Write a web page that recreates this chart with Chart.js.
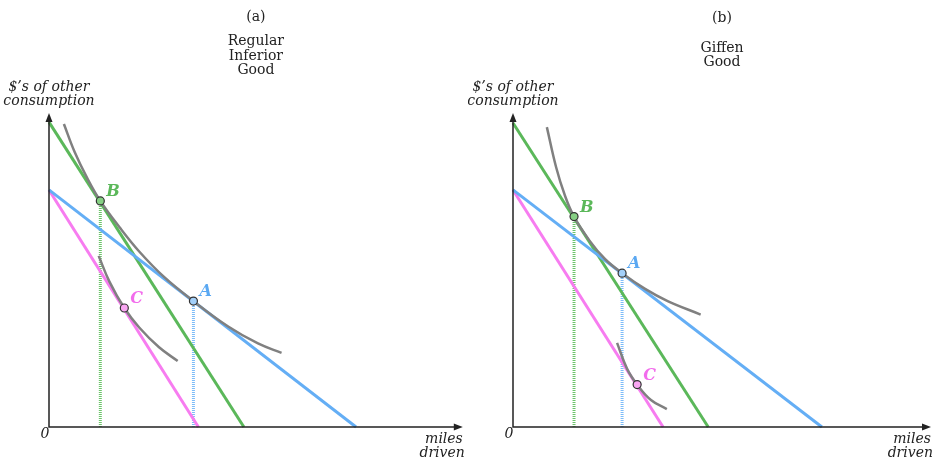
<!DOCTYPE html>
<html>
<head>
<meta charset="utf-8">
<script src="https://cdn.jsdelivr.net/npm/chart.js@4/dist/chart.umd.min.js"></script>
<style>
  body { margin: 0; background: #fff; }
  #wrap { position: relative; width: 937px; height: 463px; }
  canvas { position: absolute; top: 0; }
</style>
</head>
<body>
<div id="wrap">
  <canvas id="chartA" width="468" height="463" style="left:0"></canvas>
  <canvas id="chartB" width="469" height="463" style="left:468px"></canvas>
</div>
<script>
// panel (a) - regular inferior good
const aBlue  = [{x: 0, y: 75.5}, {x: 74.2, y: 0}];
const aGreen = [{x: 0, y: 97.1}, {x: 47.1, y: 0}];
const aPink  = [{x: 0, y: 75.5}, {x: 36.1, y: 0}];
const aCurveHigh = [
  {x: 3.6, y: 96.5}, {x: 6.2, y: 87.6}, {x: 9.3, y: 79.1}, {x: 12.4, y: 72.0},
  {x: 17.0, y: 63.7}, {x: 21.8, y: 55.9}, {x: 27.8, y: 47.8}, {x: 34.9, y: 40.1},
  {x: 43.3, y: 32.0}, {x: 50.5, y: 26.6}, {x: 56.2, y: 23.6}
];
const aCurveLow = [
  {x: 12.0, y: 54.5}, {x: 14.6, y: 46.3}, {x: 18.2, y: 37.9},
  {x: 21.8, y: 31.7}, {x: 26.6, y: 25.4}, {x: 31.1, y: 21.0}
];
const aPoints = {A: {x: 34.9, y: 40.1}, B: {x: 12.4, y: 72.0}, C: {x: 18.2, y: 37.9}};

// panel (b) - giffen good
const bBlue  = [{x: 0, y: 75.5}, {x: 73.9, y: 0}];
const bGreen = [{x: 0, y: 96.8}, {x: 46.7, y: 0}];
const bPink  = [{x: 0, y: 75.5}, {x: 35.9, y: 0}];
const bCurveHigh = [
  {x: 8.1, y: 95.5}, {x: 10.3, y: 82.8}, {x: 12.4, y: 73.8}, {x: 14.6, y: 67.0},
  {x: 18.4, y: 59.2}, {x: 22.0, y: 53.5}, {x: 26.1, y: 49.0}, {x: 31.6, y: 44.0},
  {x: 37.0, y: 40.1}, {x: 44.9, y: 35.8}
];
const bCurveLow = [
  {x: 24.9, y: 26.8}, {x: 27.3, y: 18.5}, {x: 29.7, y: 13.5},
  {x: 33.0, y: 8.6}, {x: 36.8, y: 5.7}
];
const bPoints = {A: {x: 26.1, y: 49.0}, B: {x: 14.6, y: 67.0}, C: {x: 29.7, y: 13.5}};

const titlesA = ['(a)', 'Regular', 'Inferior', 'Good'];
const titlesB = ['(b)', 'Giffen', 'Good'];

const BLUE = '#64aef5', GREEN = '#5bb85a', PINK = '#f77cf0', GRAY = '#808080';
const serif = '"DejaVu Serif", serif';

// axes with arrows plus all the text labels
const decor = {
  id: 'decor',
  afterDraw(chart, args, o) {
    const {ctx, chartArea: ca, scales} = chart;
    const x0 = ca.left, y0 = ca.bottom;
    ctx.save();
    ctx.strokeStyle = '#222';
    ctx.fillStyle = '#222';
    ctx.lineWidth = 1.5;
    ctx.beginPath();
    ctx.moveTo(x0, ca.top + 4); ctx.lineTo(x0, y0); ctx.lineTo(ca.right - 4, y0);
    ctx.stroke();
    ctx.beginPath();
    ctx.moveTo(x0, ca.top); ctx.lineTo(x0 - 3.5, ca.top + 9); ctx.lineTo(x0 + 3.5, ca.top + 9); ctx.closePath();
    ctx.fill();
    ctx.beginPath();
    ctx.moveTo(ca.right, y0); ctx.lineTo(ca.right - 9, y0 - 3.5); ctx.lineTo(ca.right - 9, y0 + 3.5); ctx.closePath();
    ctx.fill();

    ctx.fillStyle = '#222';
    ctx.textBaseline = 'middle';
    ctx.font = 'italic 14px ' + serif;
    ctx.textAlign = 'center';
    ctx.fillText('$\u2019s of other', x0, ca.top - 26);
    ctx.fillText('consumption', x0, ca.top - 12);
    ctx.fillText('0', x0 - 4, y0 + 7);
    ctx.textAlign = 'right';
    ctx.fillText('miles', ca.right, y0 + 12);
    ctx.fillText('driven', ca.right + 2, y0 + 26);

    const cx = (ca.left + ca.right) / 2;
    ctx.font = '14px ' + serif;
    ctx.textAlign = 'center';
    o.titles.forEach((t, i) => ctx.fillText(t, cx, o.titleY[i]));

    ctx.font = 'italic bold 16px ' + serif;
    ctx.textAlign = 'left';
    Object.entries(o.points).forEach(([k, p]) => {
      ctx.fillStyle = o.labelColors[k];
      ctx.fillText(k, scales.x.getPixelForValue(p.x) + 6, scales.y.getPixelForValue(p.y) - 9);
    });
    ctx.restore();
  }
};

function line(data, color, width, extra) {
  return Object.assign({
    data: data, borderColor: color, borderWidth: width, pointRadius: 0,
    showLine: true, fill: false, clip: false
  }, extra || {});
}

function makeChart(id, d, pad, titles, titleY) {
  const p = d.points;
  return new Chart(document.getElementById(id), {
    type: 'scatter',
    data: {
      datasets: [
        {data: [p.A], pointRadius: 4, pointBackgroundColor: '#a3d0fa', pointBorderColor: '#333', pointBorderWidth: 1.2, clip: false},
        {data: [p.B], pointRadius: 4, pointBackgroundColor: '#86d084', pointBorderColor: '#333', pointBorderWidth: 1.2, clip: false},
        {data: [p.C], pointRadius: 4, pointBackgroundColor: '#f9a6f2', pointBorderColor: '#333', pointBorderWidth: 1.2, clip: false},
        line(d.high, GRAY, 2.5, {tension: 0.4}),
        line(d.low, GRAY, 2.5, {tension: 0.4}),
        line(d.blue, BLUE, 3),
        line(d.green, GREEN, 3),
        line(d.pink, PINK, 3),
        line([{x: p.B.x, y: 0}, p.B], '#6cc46a', 3, {borderDash: [1, 1]}),
        line([{x: p.A.x, y: 0}, p.A], '#7dbcf8', 3, {borderDash: [1, 1]})
      ]
    },
    options: {
      responsive: false,
      animation: false,
      devicePixelRatio: 1,
      layout: {padding: pad},
      scales: {
        x: {type: 'linear', min: 0, max: 100, display: false},
        y: {type: 'linear', min: 0, max: 100, display: false}
      },
      plugins: {
        legend: {display: false},
        tooltip: {enabled: false},
        decor: {
          titles: titles, titleY: titleY, points: p,
          labelColors: {A: '#5aa8f2', B: '#5bb85a', C: '#f26cec'}
        }
      }
    },
    plugins: [decor]
  });
}

makeChart('chartA',
  {blue: aBlue, green: aGreen, pink: aPink, high: aCurveHigh, low: aCurveLow, points: aPoints},
  {left: 49, right: 2, top: 113, bottom: 36}, titlesA, [17, 41, 56, 70]);
makeChart('chartB',
  {blue: bBlue, green: bGreen, pink: bPink, high: bCurveHigh, low: bCurveLow, points: bPoints},
  {left: 45, right: 6, top: 113, bottom: 36}, titlesB, [18, 48, 62]);
</script>
</body>
</html>
